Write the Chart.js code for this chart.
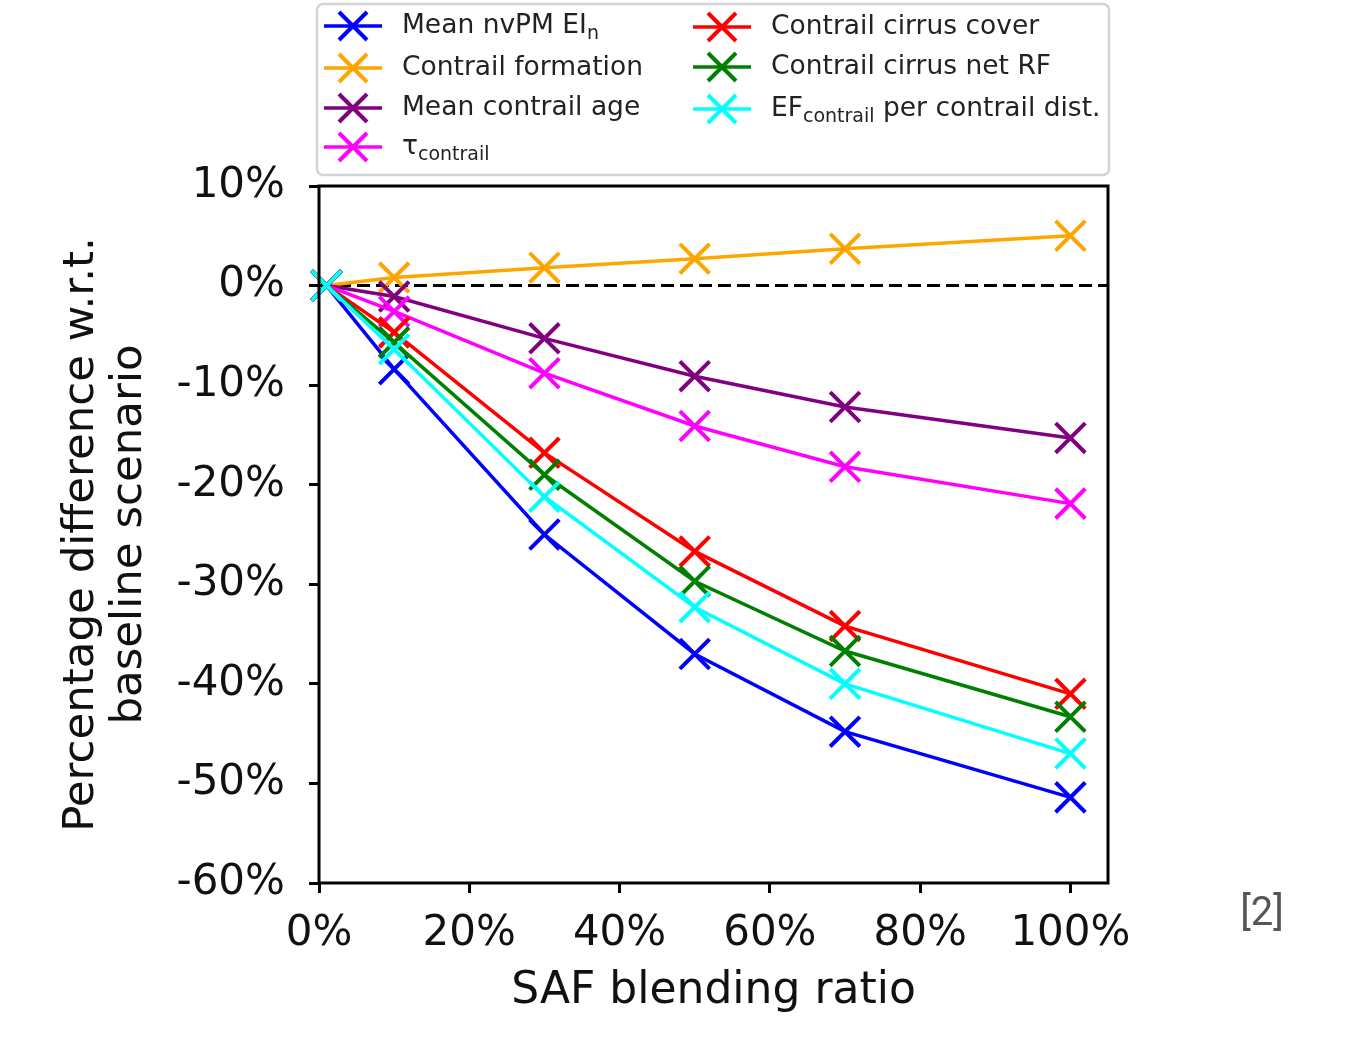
<!DOCTYPE html>
<html>
<head>
<meta charset="utf-8">
<title>SAF blending ratio</title>
<script src="https://cdn.jsdelivr.net/npm/chart.js@4.4.0/dist/chart.umd.min.js"></script>
<style>
  html, body { margin: 0; padding: 0; background: #fff; }
  canvas { display: block; }
</style>
</head>
<body>
<canvas id="safChart" width="1349" height="1043"></canvas>
<script>
// values (% difference w.r.t. baseline)
const blendRatio = [1, 10, 30, 50, 70, 100];
const meanNvpm = [0, -8.4, -25.0, -37.0, -44.8, -51.4];
const contrailFormation = [0, 0.8, 1.8, 2.7, 3.7, 5.0];
const meanContrailAge = [0, -1.1, -5.3, -9.1, -12.2, -15.3];
const tauContrail = [0, -2.6, -8.8, -14.1, -18.2, -21.9];
const cirrusCover = [0, -4.7, -16.8, -26.7, -34.2, -41.0];
const cirrusNetRF = [0, -5.7, -19.0, -29.7, -36.7, -43.3];
const efPerDist = [0, -6.4, -21.2, -32.3, -40.0, -47.0];

const xTicks = [0, 20, 40, 60, 80, 100];
const yTicks = [-60, -50, -40, -30, -20, -10, 0, 10];

const seriesLabels = ['Mean nvPM EI_{n}', 'Contrail formation', 'Mean contrail age', 'τ_{contrail}',
  'Contrail cirrus cover', 'Contrail cirrus net RF', 'EF_{contrail} per contrail dist.'];
const seriesValues = [meanNvpm, contrailFormation, meanContrailAge, tauContrail, cirrusCover, cirrusNetRF, efPerDist];
const seriesColors = ['#0000ff', '#ffa500', '#800080', '#ff00ff', '#ff0000', '#008000', '#00ffff'];

const FONT = 'DejaVu Sans';

// text with _{sub} parts
function drawRich(ctx, text, x, y, size) {
  const parts = text.split(/_\{([^}]*)\}/);
  parts.forEach((p, k) => {
    if (!p) return;
    const sub = k % 2 === 1;
    ctx.font = (sub ? Math.round(size * 0.7) : size) + 'px "' + FONT + '"';
    ctx.fillText(p, x, sub ? y + 8 : y);
    x += ctx.measureText(p).width;
  });
}

function drawX(ctx, cx, cy, h) {
  ctx.beginPath();
  ctx.moveTo(cx - h, cy - h); ctx.lineTo(cx + h, cy + h);
  ctx.moveTo(cx - h, cy + h); ctx.lineTo(cx + h, cy - h);
  ctx.stroke();
}

const zeroLine = {
  id: 'zeroLine',
  beforeDatasetsDraw(chart) {
    const {ctx, chartArea} = chart;
    const y = chart.scales.y.getPixelForValue(0);
    ctx.save();
    ctx.strokeStyle = '#000';
    ctx.lineWidth = 3;
    ctx.setLineDash([13, 6]);
    ctx.beginPath();
    ctx.moveTo(chartArea.left, y);
    ctx.lineTo(chartArea.right, y);
    ctx.stroke();
    ctx.restore();
  }
};

const frameAndLegend = {
  id: 'frameAndLegend',
  afterDraw(chart) {
    const {ctx, chartArea} = chart;
    ctx.save();
    ctx.strokeStyle = '#000';
    ctx.lineWidth = 3;
    ctx.strokeRect(chartArea.left, chartArea.top, chartArea.right - chartArea.left, chartArea.bottom - chartArea.top);

    // legend box
    ctx.beginPath();
    ctx.roundRect(317, 4, 792, 171, 6);
    ctx.fillStyle = 'rgba(255,255,255,0.9)';
    ctx.fill();
    ctx.lineWidth = 2.5;
    ctx.strokeStyle = '#d4d4d4';
    ctx.stroke();

    const rowY = [[26, 68, 108, 147], [27, 67, 109]];
    const colX = [324, 693];
    chart.data.datasets.forEach((ds, i) => {
      const col = i < 4 ? 0 : 1;
      const row = col ? i - 4 : i;
      const hx = colX[col];
      const y = rowY[col][row];
      ctx.strokeStyle = ds.borderColor;
      ctx.lineWidth = 3.5;
      ctx.beginPath();
      ctx.moveTo(hx, y);
      ctx.lineTo(hx + 58, y);
      ctx.stroke();
      ctx.lineWidth = 4;
      drawX(ctx, hx + 29, y, 14);
      ctx.fillStyle = '#222';
      ctx.textBaseline = 'middle';
      ctx.textAlign = 'left';
      drawRich(ctx, ds.label, hx + 78, y, 26.5);
    });

    ctx.fillStyle = '#555';
    ctx.font = '40px Roboto';
    ctx.textAlign = 'center';
    ctx.textBaseline = 'middle';
    ctx.fillText('[2]', 1262, 915);
    ctx.restore();
  }
};

const ctx = document.getElementById('safChart').getContext('2d');
const safChart = new Chart(ctx, {
  type: 'line',
  data: {
    datasets: seriesValues.map((vals, i) => ({
      label: seriesLabels[i],
      data: blendRatio.map((x, k) => ({x: x, y: vals[k]})),
      borderColor: seriesColors[i],
      backgroundColor: seriesColors[i],
      borderWidth: 3.5,
      pointStyle: 'crossRot',
      pointRadius: 21,
      pointHoverRadius: 21,
      pointBorderWidth: 4,
      tension: 0,
      fill: false,
      clip: false,
      order: seriesValues.length - i
    }))
  },
  options: {
    responsive: false,
    animation: false,
    devicePixelRatio: 1,
    layout: {
      padding: {top: 186, right: 241, left: 0, bottom: 0}
    },
    scales: {
      x: {
        type: 'linear',
        min: 0,
        max: 105,
        afterBuildTicks: function(scale) {
          scale.ticks = xTicks.map(v => ({value: v}));
        },
        afterFit: function(scale) {
          scale.height = 160;
        },
        grid: {drawOnChartArea: false, drawTicks: true, tickLength: 10, color: '#000', lineWidth: 3},
        border: {display: false},
        ticks: {
          font: {family: FONT, size: 42},
          color: '#111',
          padding: 16,
          maxRotation: 0,
          autoSkip: false,
          callback: function(value) { return value + '%'; }
        },
        title: {
          display: true,
          text: 'SAF blending ratio',
          font: {family: FONT, size: 44},
          color: '#111',
          padding: {bottom: 25}
        }
      },
      y: {
        min: -60,
        max: 10,
        afterBuildTicks: function(scale) {
          scale.ticks = yTicks.map(v => ({value: v}));
        },
        afterFit: function(scale) {
          scale.width = 319;
        },
        grid: {drawOnChartArea: false, drawTicks: true, tickLength: 10, color: '#000', lineWidth: 3},
        border: {display: false},
        ticks: {
          font: {family: FONT, size: 42},
          color: '#111',
          padding: 24,
          autoSkip: false,
          callback: function(value) { return value + '%'; }
        },
        title: {
          display: true,
          text: ['Percentage difference w.r.t.', 'baseline scenario'],
          font: {family: FONT, size: 43.5, lineHeight: 1.12},
          color: '#111',
          padding: {top: 57}
        }
      }
    },
    plugins: {
      legend: {display: false},
      title: {display: false},
      tooltip: {enabled: false}
    }
  },
  plugins: [zeroLine, frameAndLegend]
});
</script>
</body>
</html>
